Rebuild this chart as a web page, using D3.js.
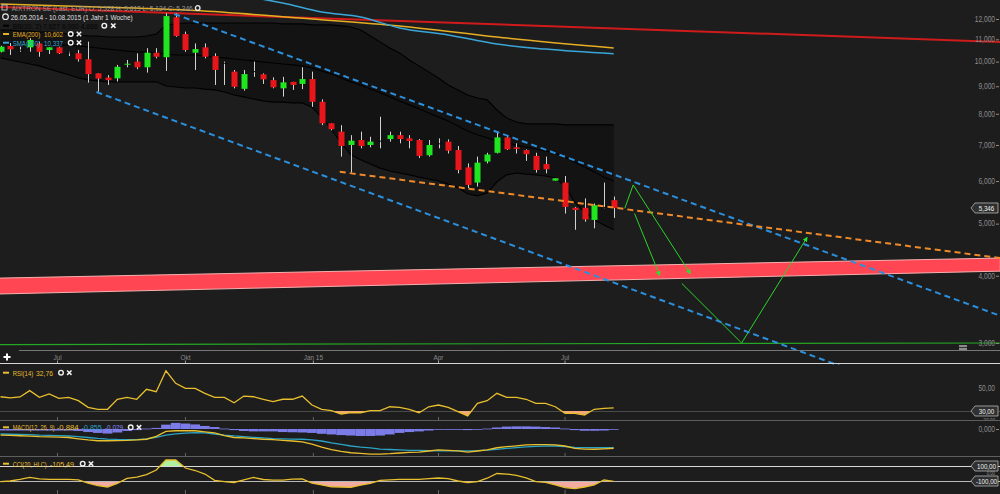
<!DOCTYPE html>
<html><head><meta charset="utf-8">
<script src="https://cdn.jsdelivr.net/npm/d3@7"></script>
<style>
html,body{margin:0;padding:0;background:#1d1d1d;overflow:hidden}
svg{display:block}
text{font-family:"Liberation Sans",Arial,sans-serif}
</style></head><body>
<svg id="c" width="1000" height="494"></svg>
<script>
// ---------------- DATA ----------------
const firstWeek = "2014-05-21";   // weekly candles
const opens  = [10.43,10.69,10.53,10.63,10.81,10.51,10.63,10.40,10.36,10.10,9.51,9.34,9.31,9.89,10.00,9.76,10.39,10.19,12.09,11.25,10.39,10.63,10.24,9.95,9.58,8.90,9.60,9.47,9.24,8.92,9.17,9.09,9.28,8.42,7.68,7.41,7.00,7.15,7.00,7.13,7.18,7.30,7.20,7.15,6.70,7.05,7.10,6.85,6.36,5.96,6.52,6.77,7.23,6.93,6.85,6.68,6.45,6.01,5.96,5.35,5.35,5.08,5.37,5.528];
const highs  = [10.70,10.83,10.66,11.05,10.89,10.63,10.66,10.43,10.51,10.89,9.51,9.44,9.86,10.07,10.36,10.59,10.59,12.30,12.30,11.37,10.81,10.81,10.36,10.00,9.65,9.65,10.00,9.51,9.35,9.37,9.17,9.76,9.58,8.51,7.68,7.62,7.30,7.41,7.25,7.90,7.41,7.41,7.30,7.18,7.15,7.20,7.17,6.97,6.47,6.66,6.77,7.41,7.30,7.05,6.87,6.77,6.66,6.07,6.13,5.37,5.57,5.45,5.96,5.613];
const lows   = [10.40,10.29,10.43,10.43,10.21,10.33,10.33,10.24,10.00,9.14,8.79,9.05,9.18,9.76,9.68,9.54,10.14,9.61,11.12,10.43,9.65,10.14,9.05,9.05,8.92,8.83,9.37,9.09,8.92,8.61,8.86,8.89,8.24,7.62,7.45,6.66,6.22,6.90,6.93,6.90,7.10,7.05,6.90,6.62,6.66,6.90,6.75,6.20,5.82,5.86,6.47,6.75,6.85,6.75,6.54,6.22,6.20,6.01,5.22,4.87,5.04,4.90,5.34,5.124];
const closes = [10.66,10.54,10.53,10.97,10.43,10.63,10.36,10.40,10.10,9.48,9.30,9.24,9.78,9.91,9.76,10.39,10.21,12.15,11.16,10.51,10.55,10.21,9.65,9.95,8.98,9.48,9.60,9.27,8.96,9.15,9.05,9.28,8.42,7.68,7.49,6.97,7.13,6.97,7.10,7.13,7.30,7.18,7.12,6.68,7.00,7.05,6.83,6.29,5.90,6.49,6.72,7.23,6.87,6.88,6.73,6.29,6.31,6.07,5.37,5.30,5.09,5.41,5.37,5.346];

const bbUpper = [11.45,11.45,11.40,11.40,11.35,11.35,11.30,11.25,11.21,11.16,11.16,11.11,11.11,11.11,11.11,11.16,11.25,11.70,11.75,11.80,11.80,11.80,11.80,11.80,11.80,11.80,11.80,11.80,11.80,11.75,11.75,11.75,11.70,11.70,11.70,11.65,11.60,11.45,11.16,10.88,10.60,10.38,10.07,9.82,9.57,9.32,9.05,8.86,8.67,8.56,8.49,8.13,7.86,7.72,7.66,7.66,7.66,7.66,7.63,7.63,7.63,7.63,7.63,7.63];
const bbMid   = [10.83,10.83,10.83,10.78,10.78,10.78,10.74,10.74,10.69,10.65,10.60,10.55,10.51,10.46,10.42,10.42,10.38,10.33,10.29,10.29,10.29,10.24,10.20,10.16,10.11,10.07,10.03,9.98,9.94,9.90,9.86,9.82,9.73,9.61,9.48,9.32,9.17,9.05,8.89,8.75,8.60,8.45,8.31,8.17,8.03,7.89,7.76,7.59,7.43,7.31,7.22,7.12,7.06,7.00,6.94,6.88,6.82,6.76,6.65,6.51,6.37,6.24,6.10,6.00];
const bbLower = [10.16,10.07,9.98,9.90,9.82,9.69,9.57,9.45,9.32,9.25,9.21,9.17,9.17,9.17,9.17,9.17,9.17,9.01,8.97,8.93,8.93,8.89,8.86,8.78,8.67,8.60,8.52,8.45,8.41,8.41,8.38,8.38,8.23,7.89,7.47,7.06,6.71,6.57,6.45,6.34,6.26,6.21,6.16,6.10,6.05,6.00,5.92,5.83,5.68,5.63,5.70,5.98,6.16,6.21,6.18,6.16,6.13,6.08,5.87,5.48,5.26,5.08,4.97,4.87];

const emaIdx = [0,10,20,32,41,51,63];
const emaVal = [12.79,12.63,12.44,12.00,11.65,11.11,10.602];
const smaIdx = [20,29,33,37,41,46,51,56,63];
const smaVal = [13.60,12.85,12.36,12.10,11.55,11.21,10.78,10.55,10.337];

const rsi = [42.4,41.5,42.2,47.7,41.9,44.8,41.0,41.9,39.0,33.2,31.5,31.5,40.2,41.9,40.2,48.9,46.8,65.0,54.1,49.7,49.7,45.4,41.9,41.9,37.2,43.0,42.4,40.2,38.1,40.2,40.2,43.0,35.2,31.5,30.3,27.4,28.5,28.5,30.3,30.3,33.7,33.2,31.5,28.5,33.7,35.2,33.2,29.4,25.7,36.7,39.0,45.4,41.9,41.9,40.2,36.7,36.7,33.7,28.0,28.0,26.5,31.5,32.3,32.76];
const macd = [-0.28,-0.29,-0.31,-0.33,-0.35,-0.36,-0.37,-0.39,-0.45,-0.50,-0.54,-0.54,-0.53,-0.52,-0.50,-0.47,-0.34,-0.11,-0.08,-0.08,-0.08,-0.13,-0.18,-0.30,-0.39,-0.41,-0.44,-0.47,-0.49,-0.52,-0.55,-0.59,-0.69,-0.83,-0.95,-1.03,-1.09,-1.12,-1.15,-1.15,-1.13,-1.10,-1.07,-1.06,-1.01,-0.96,-0.98,-1.00,-1.06,-1.01,-0.96,-0.86,-0.81,-0.77,-0.73,-0.72,-0.72,-0.73,-0.78,-0.89,-0.92,-0.93,-0.91,-0.884];
const signal = [-0.23,-0.24,-0.25,-0.26,-0.28,-0.29,-0.30,-0.32,-0.35,-0.39,-0.43,-0.46,-0.48,-0.49,-0.49,-0.45,-0.38,-0.28,-0.22,-0.19,-0.17,-0.18,-0.23,-0.28,-0.32,-0.35,-0.38,-0.41,-0.44,-0.45,-0.46,-0.47,-0.50,-0.55,-0.64,-0.71,-0.78,-0.83,-0.87,-0.92,-0.94,-0.96,-0.98,-0.98,-0.99,-1.00,-1.00,-1.00,-1.00,-0.99,-0.97,-0.93,-0.89,-0.85,-0.82,-0.80,-0.79,-0.78,-0.81,-0.84,-0.85,-0.85,-0.86,-0.855];
const hist = [-0.07,-0.07,-0.07,-0.07,-0.07,-0.07,-0.07,-0.07,-0.09,-0.14,-0.18,-0.21,-0.16,-0.09,-0.05,0.02,0.05,0.20,0.28,0.25,0.21,0.14,0.09,0.02,-0.05,-0.09,-0.11,-0.11,-0.11,-0.14,-0.15,-0.16,-0.18,-0.22,-0.25,-0.28,-0.30,-0.32,-0.32,-0.30,-0.25,-0.18,-0.14,-0.11,-0.07,-0.02,-0.02,-0.02,-0.05,-0.02,0.02,0.07,0.11,0.12,0.12,0.11,0.09,0.07,0.02,-0.05,-0.08,-0.08,-0.07,-0.029];
const cci = [-109,-100,-77,-51,-71,-77,-77,-79,-85,-129,-161,-180,-131,-64,-47,-16,47,180,180,73,40,-7,-91,-107,-120,-84,-53,-80,-87,-87,-76,-71,-127,-153,-177,-180,-184,-156,-131,-91,-84,-77,-77,-77,-68,-60,-68,-100,-120,-107,-63,0,-7,-24,-57,-109,-117,-151,-187,-201,-180,-153,-87,-105.49];

// drawn objects: [date, price]
const channelUpper = [["2014-09-23",12.26],["2016-05-09",3.37]];
const channelLower = [["2014-07-29",8.78],["2016-01-18",2.70]];
const supportLine  = [["2015-01-20",6.24],["2016-05-09",4.315]];
const resistLine   = [["2014-05-20",12.63],["2016-05-09",10.88]];
const zoneTop      = [["2014-05-20",3.96],["2016-05-09",4.315]];
const zoneBottom   = [["2014-05-20",3.70],["2016-05-09",4.08]];
const floorLine    = [["2014-05-20",2.98],["2016-05-09",3.00]];
const projA = [["2015-08-13",5.34],["2015-08-19",5.90],["2015-09-29",4.04]];
const projB = [["2015-08-20",5.22],["2015-09-07",4.01]];
const projC = [["2015-09-23",3.87],["2015-11-05",3.00],["2015-12-22",4.71]];

const priceTicks = [3,4,5,6,7,8,9,10,11,12];
const monthTicks = ["2014-07-01","2014-10-01","2015-01-01","2015-04-01","2015-07-01"];
const monthLabels = ["Jul","Okt","Jan 15","Apr","Jul"];

// ---------------- RENDER ----------------
const svg = d3.select("#c");
const W = 1000, H = 494;
svg.append("rect").attr("width",W).attr("height",H).attr("fill","#1d1d1d");
const defs = svg.append("defs");
function clip(id, x0, y0, w, h){ defs.append("clipPath").attr("id",id).append("rect").attr("x",x0).attr("y",y0).attr("width",w).attr("height",h); return `url(#${id})`; }

const parse = d3.utcParse("%Y-%m-%d");
const d0 = parse(firstWeek);
const dates = opens.map((_,i)=>d3.utcDay.offset(d0, i*7));
const x = d3.scaleUtc().domain([dates[0], dates[dates.length-1]]).range([0.5, 613.7]);
const y = d3.scaleLog().domain([3,12]).range([343,19]);
const idx = d3.range(opens.length);
const step = x(dates[1]) - x(dates[0]);

const fmtN = (v,d)=>v.toFixed(d).replace(".",",");

function label(g, xx, yy, s, o={}){
  const sx = o.sx ?? 0.72;
  const t = g.append("text")
    .attr("transform",`translate(${xx},${yy}) scale(${sx},1)`)
    .attr("text-anchor",o.anchor||"start")
    .attr("dominant-baseline","central")
    .attr("font-size",o.size||8.5)
    .attr("fill",o.fill||"#8c8c8c")
    .text(s);
  if(o.width) t.attr("textLength",o.width/sx).attr("lengthAdjust","spacingAndGlyphs");
  return t;
}
function icons(g, xo, xx, yy){
  g.append("circle").attr("cx",xo).attr("cy",yy).attr("r",2.3).attr("fill","none").attr("stroke","#f0f0f0").attr("stroke-width",1.4);
  g.append("path").attr("d",`M${xx-2.2},${yy-2.2}L${xx+2.2},${yy+2.2}M${xx-2.2},${yy+2.2}L${xx+2.2},${yy-2.2}`).attr("stroke","#f0f0f0").attr("stroke-width",1.5);
}
function tag(g, yy, s){
  g.append("path").attr("d",`M971,${yy}L975,${yy-5}L998,${yy-5}L998,${yy+5}L975,${yy+5}Z`).attr("fill","#303030").attr("stroke","#b5b5b5").attr("stroke-width",0.8);
  label(g, 986.5, yy+0.3, s, {anchor:"middle", fill:"#f2f2f2", size:8, sx:0.78});
}
const pt = d => [x(parse(d[0])), y(d[1])];

// ===== MAIN PANEL =====
const main = svg.append("g").attr("clip-path", clip("cm",0,0,W,349));

main.append("path").datum(idx)
  .attr("d", d3.area().x(i=>x(dates[i])).y0(i=>y(bbLower[i])).y1(i=>y(bbUpper[i])))
  .attr("fill","#131313");
[bbUpper,bbMid,bbLower].forEach(arr=>{
  main.append("path").datum(idx).attr("d", d3.line().x(i=>x(dates[i])).y(i=>y(arr[i])))
    .attr("fill","none").attr("stroke","#000").attr("stroke-width",1.1);
});

const zone = zoneTop.map(pt).concat(zoneBottom.map(pt).reverse());
main.append("path").attr("d", d3.line()(zone)+"Z").attr("fill","#ff4652").attr("stroke","#f3b0b0").attr("stroke-width",1);

main.append("path").attr("d", d3.line()(floorLine.map(pt))).attr("stroke","#25a825").attr("stroke-width",1.2).attr("fill","none");
main.append("path").attr("d", d3.line()(resistLine.map(pt))).attr("stroke","#cf1b1b").attr("stroke-width",2).attr("fill","none");

main.append("path").datum(emaIdx.map((k,j)=>[x(dates[k]), y(emaVal[j])]))
  .attr("d", d3.line().curve(d3.curveMonotoneX)).attr("fill","none").attr("stroke","#e6ae22").attr("stroke-width",1.5);
main.append("path").datum(smaIdx.map((k,j)=>[x(dates[k]), y(smaVal[j])]))
  .attr("d", d3.line().curve(d3.curveMonotoneX)).attr("fill","none").attr("stroke","#3aa6d8").attr("stroke-width",1.5);

const cg = main.append("g");
const cx = i => Math.round(x(dates[i]));
cg.selectAll("line").data(idx).join("line")
  .attr("x1",i=>cx(i)+0.5).attr("x2",i=>cx(i)+0.5)
  .attr("y1",i=>y(highs[i])).attr("y2",i=>y(lows[i]))
  .attr("stroke","#d2d2d2").attr("stroke-width",1);
cg.selectAll("rect").data(idx).join("rect")
  .attr("x",i=>cx(i)-2.5).attr("width",6)
  .attr("y",i=>y(Math.max(opens[i],closes[i])))
  .attr("height",i=>Math.max(1, Math.abs(y(opens[i])-y(closes[i]))))
  .attr("fill",i=> closes[i]>opens[i] ? "#1fe61f" : closes[i]<opens[i] ? "#e8161a" : "#0c0c0c");

const dashed = (data,color)=> main.append("path").attr("d", d3.line()(data.map(pt)))
  .attr("stroke",color).attr("stroke-width",2).attr("stroke-dasharray","6,4").attr("fill","none");
dashed(channelUpper,"#2c8fdc");
dashed(supportLine,"#ef8a2a");

defs.append("marker").attr("id","ah").attr("viewBox","0 0 10 10").attr("refX",8).attr("refY",5)
  .attr("markerWidth",5).attr("markerHeight",5).attr("orient","auto")
  .append("path").attr("d","M0,0L10,5L0,10Z").attr("fill","#2ee02e");
[projA,projB,projC].forEach(p=>{
  main.append("path").attr("d", d3.line()(p.map(pt))).attr("stroke","#2bd42b").attr("stroke-width",1)
    .attr("fill","none").attr("marker-end","url(#ah)");
});

svg.append("g").attr("clip-path", clip("cl",0,0,W,365)).append("path")
  .attr("d", d3.line()(channelLower.map(pt)))
  .attr("stroke","#2c8fdc").attr("stroke-width",2).attr("stroke-dasharray","6,4").attr("fill","none");

// price axis
const ax = svg.append("g");
priceTicks.forEach(v=>{
  label(ax, 995, y(v), fmtN(v,3), {anchor:"end", sx:0.78});
  ax.append("line").attr("x1",996).attr("x2",999).attr("y1",y(v)+0.5).attr("y2",y(v)+0.5).attr("stroke","#8c8c8c");
});
tag(ax, y(closes[closes.length-1]), fmtN(closes[closes.length-1],3));

// legend (main)
const lg = svg.append("g");
const LS = 7.2;
lg.append("rect").attr("x",2).attr("y",5).attr("width",5).attr("height",5).attr("fill","none").attr("stroke","#bbb").attr("stroke-width",1);
label(lg, 11.7, 7.8, "AIXTRON SE (Last, EUR)  O: 5,528  H: 5,613  L: 5,124  C: 5,346", {fill:"#9a9a9a", width:181, size:LS});
lg.append("circle").attr("cx",197.7).attr("cy",8).attr("r",2.3).attr("fill","none").attr("stroke","#eee").attr("stroke-width",1.3);
lg.append("circle").attr("cx",5.5).attr("cy",16.7).attr("r",2.8).attr("fill","none").attr("stroke","#eee").attr("stroke-width",1.1);
label(lg, 10.7, 16.7, "26.05.2014 - 10.08.2015 (1 Jahr 1 Woche)", {fill:"#e0e0e0", width:122, size:LS});
lg.append("line").attr("x1",3).attr("x2",9).attr("y1",25.7).attr("y2",25.7).attr("stroke","#000").attr("stroke-width",2);
label(lg, 12.7, 25.7, "BB(20, 2) 7,627 6,000 4,866", {fill:"#050505", width:85, size:LS});
icons(lg, 104.3, 113.3, 25.7);
lg.append("line").attr("x1",3).attr("x2",9).attr("y1",34).attr("y2",34).attr("stroke","#e6ae22").attr("stroke-width",2);
label(lg, 12.7, 34, "EMA(200)", {fill:"#e6ae22", width:27.5, size:LS});
label(lg, 44, 34, fmtN(emaVal[emaVal.length-1],3), {fill:"#e6ae22", width:19, size:LS});
icons(lg, 70.7, 79, 34);
lg.append("line").attr("x1",3).attr("x2",9).attr("y1",42.7).attr("y2",42.7).attr("stroke","#3aa6d8").attr("stroke-width",2);
label(lg, 12.7, 42.7, "SMA(200)", {fill:"#3aa6d8", width:27.5, size:LS});
label(lg, 44, 42.7, fmtN(smaVal[smaVal.length-1],3), {fill:"#3aa6d8", width:19, size:LS});
icons(lg, 70.7, 79, 42.7);

// ===== TIME AXIS STRIP =====
const ta = svg.append("g");
ta.append("line").attr("x1",19).attr("x2",W).attr("y1",350.5).attr("y2",350.5).attr("stroke","#777");
ta.append("rect").attr("x",959).attr("y",345).attr("width",8).attr("height",5).attr("fill","#8a8a8a");
ta.append("line").attr("x1",959).attr("x2",967).attr("y1",347.5).attr("y2",347.5).attr("stroke","#333");
ta.append("path").attr("d","M7,353.5V360.5M3.5,357H10.5").attr("stroke","#fff").attr("stroke-width",2);
monthTicks.forEach((d,k)=>{
  const xx = x(parse(d));
  label(ta, xx, 357.3, monthLabels[k], {anchor:"middle", size:8, sx:0.8, fill:"#8a8a8a"});
  ta.append("line").attr("x1",xx).attr("x2",xx).attr("y1",360.5).attr("y2",363.5).attr("stroke","#999");
});
ta.append("line").attr("x1",0).attr("x2",W).attr("y1",363.5).attr("y2",363.5).attr("stroke","#d6d6d6");
ta.append("line").attr("x1",0).attr("x2",W).attr("y1",420.5).attr("y2",420.5).attr("stroke","#5e5e5e");
ta.append("line").attr("x1",0).attr("x2",W).attr("y1",456.5).attr("y2",456.5).attr("stroke","#5e5e5e");
[[417,420],[453,456],[490,494]].forEach(([a,b])=>{
  monthTicks.forEach(d=>{ const xx=x(parse(d)); ta.append("line").attr("x1",xx).attr("x2",xx).attr("y1",a).attr("y2",b).attr("stroke","#666"); });
});

const YEL = "#e8bf2e";
const lineGen = (sc, arr)=> d3.line().x(i=>x(dates[i])).y(i=>sc(arr[i]));

// ===== RSI =====
const yR = d3.scaleLinear().domain([30,50]).range([411,388]);
const rp = svg.append("g").attr("clip-path", clip("cr",0,365,W,55));
rp.append("line").attr("x1",0).attr("x2",W).attr("y1",yR(30)+0.5).attr("y2",yR(30)+0.5).attr("stroke","#4a4a4a");
rp.append("g").attr("clip-path", clip("crf",0,yR(30),W,20)).append("path").datum(idx)
  .attr("d", d3.area().x(i=>x(dates[i])).y0(yR(30)).y1(i=>yR(rsi[i]))).attr("fill","#f2a877");
rp.append("path").datum(idx).attr("d", lineGen(yR,rsi)).attr("fill","none").attr("stroke",YEL).attr("stroke-width",1.3);
const rl = svg.append("g");
rl.append("line").attr("x1",3).attr("x2",9).attr("y1",372.7).attr("y2",372.7).attr("stroke",YEL).attr("stroke-width",2);
label(rl, 12.7, 372.7, "RSI(14)", {fill:YEL, width:20.5, size:LS});
label(rl, 36, 372.7, fmtN(rsi[rsi.length-1],2), {fill:YEL, width:17, size:LS});
icons(rl, 61, 69.3, 372.7);
const rAx = svg.append("g").attr("clip-path", clip("cra",0,365,W,55));
label(rAx, 995, yR(50), fmtN(50,2), {anchor:"end", sx:0.78});
label(rAx, 995, 419.6, fmtN(20,2), {anchor:"end", sx:0.78, size:6});
tag(rAx, yR(30), fmtN(30,2));

// ===== MACD =====
const yM = d3.scaleLinear().domain([-1,0]).range([450.8,429]);
const mp = svg.append("g").attr("clip-path", clip("cmd",0,421,W,35));
mp.selectAll("rect").data(idx).join("rect")
  .attr("x",i=>x(dates[i])-step/2).attr("width",step)
  .attr("y",i=>Math.min(yM(hist[i]),yM(0))).attr("height",i=>Math.max(0.8,Math.abs(yM(hist[i])-yM(0))))
  .attr("fill","#7c7ce8");
mp.append("path").datum(idx).attr("d", lineGen(yM,signal)).attr("fill","none").attr("stroke","#2aa3c4").attr("stroke-width",1.3);
mp.append("path").datum(idx).attr("d", lineGen(yM,macd)).attr("fill","none").attr("stroke",YEL).attr("stroke-width",1.3);
const ml = svg.append("g");
ml.append("line").attr("x1",3).attr("x2",9).attr("y1",427.3).attr("y2",427.3).attr("stroke",YEL).attr("stroke-width",2);
label(ml, 12.7, 427.3, "MACD(12, 26, 9)", {fill:YEL, width:42, size:LS});
label(ml, 56.7, 427.3, fmtN(macd[macd.length-1],3), {fill:YEL, width:22, size:LS});
label(ml, 81.7, 427.3, fmtN(signal[signal.length-1],3), {fill:"#2aa3c4", width:20, size:LS});
label(ml, 105, 427.3, fmtN(hist[hist.length-1],3), {fill:"#8a8aee", width:18, size:LS});
icons(ml, 130.7, 139, 427.3);
label(svg.append("g"), 995, yM(0), fmtN(0,3), {anchor:"end", sx:0.78});
svg.append("line").attr("x1",996).attr("x2",999).attr("y1",yM(0)+0.5).attr("y2",yM(0)+0.5).attr("stroke","#8c8c8c");

// ===== CCI =====
const yC = d3.scaleLinear().domain([-100,100]).range([481,466]);
const cp = svg.append("g").attr("clip-path", clip("cc",0,457,W,37));
cp.append("g").attr("clip-path", clip("ccl",0,yC(-100),W,20)).append("path").datum(idx)
  .attr("d", d3.area().x(i=>x(dates[i])).y0(yC(-100)).y1(i=>yC(cci[i]))).attr("fill","#f2aca2");
cp.append("g").attr("clip-path", clip("cch",0,457,W,yC(100)-457)).append("path").datum(idx)
  .attr("d", d3.area().x(i=>x(dates[i])).y0(yC(100)).y1(i=>yC(cci[i]))).attr("fill","#aef0a0");
cp.append("line").attr("x1",0).attr("x2",W).attr("y1",yC(100)+0.5).attr("y2",yC(100)+0.5).attr("stroke","#d8d8d8");
cp.append("line").attr("x1",0).attr("x2",W).attr("y1",yC(-100)+0.5).attr("y2",yC(-100)+0.5).attr("stroke","#b8b8b8");
cp.append("path").datum(idx).attr("d", lineGen(yC,cci)).attr("fill","none").attr("stroke",YEL).attr("stroke-width",1.3);
const cl = svg.append("g");
cl.append("line").attr("x1",3).attr("x2",9).attr("y1",463.7).attr("y2",463.7).attr("stroke",YEL).attr("stroke-width",2);
label(cl, 12.7, 463.7, "CCI(20, HLC)", {fill:YEL, width:34, size:LS});
label(cl, 50, 463.7, fmtN(cci[cci.length-1],2), {fill:YEL, width:24, size:LS});
icons(cl, 82.7, 91, 463.7);
const cAx = svg.append("g");
label(cAx, 995, yC(0), fmtN(0,2), {anchor:"end", sx:0.78, size:5.5});
tag(cAx, yC(100), fmtN(100,2));
tag(cAx, yC(-100), fmtN(-100,2));
</script>
</body></html>
